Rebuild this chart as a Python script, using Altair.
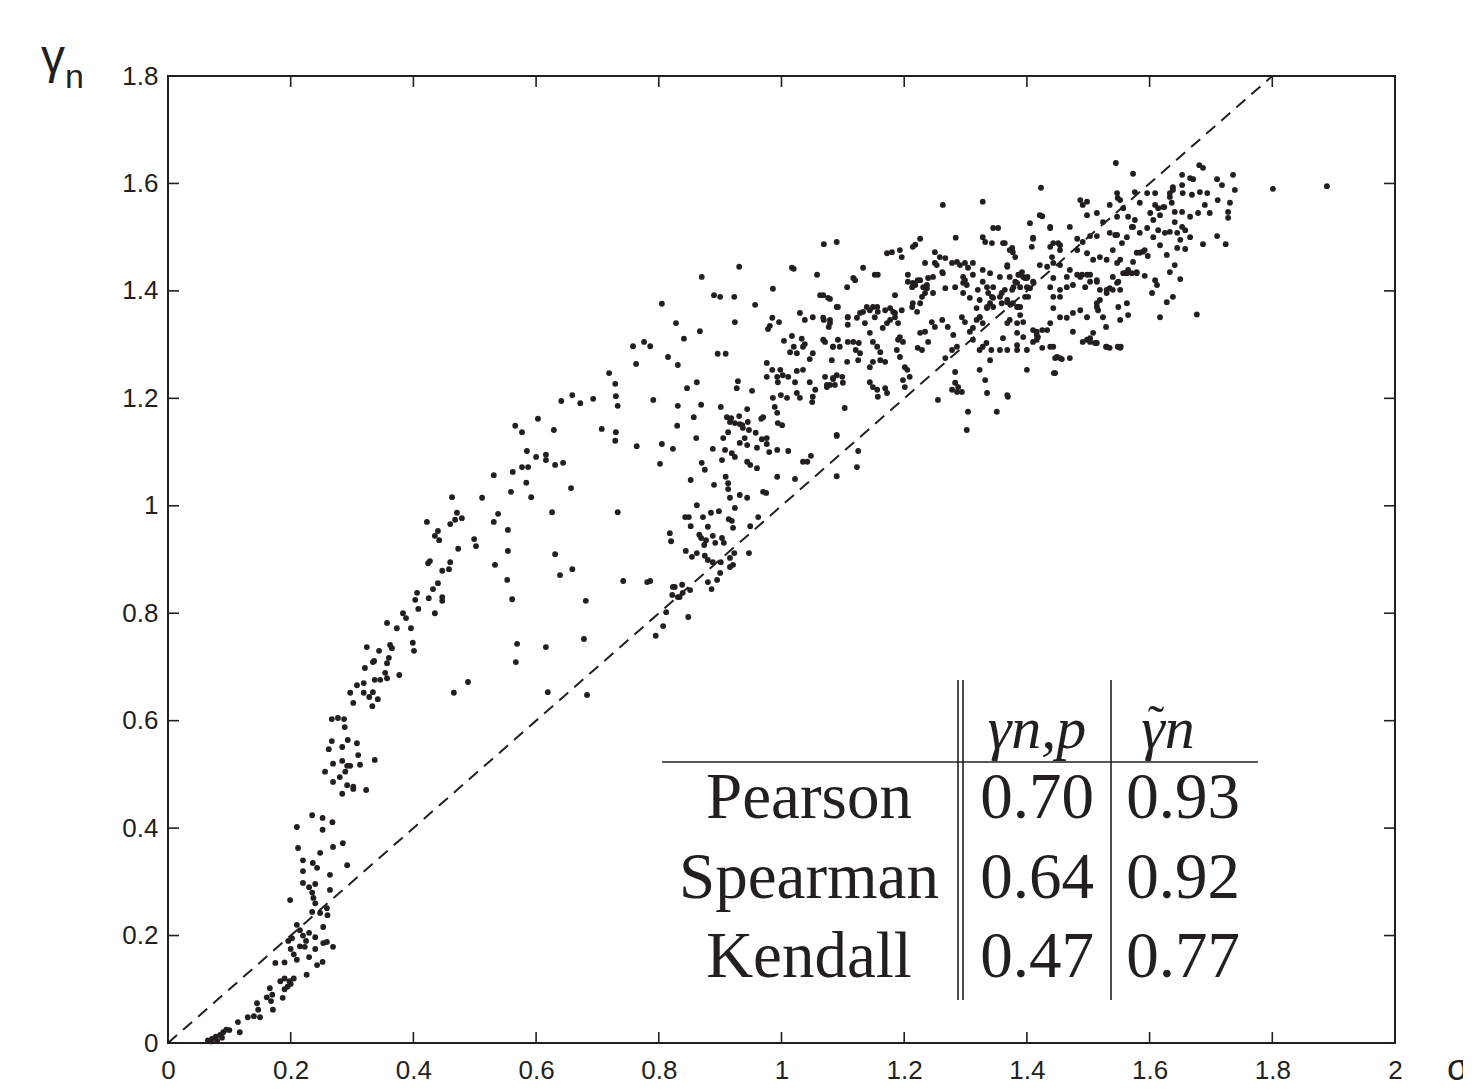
import altair as alt
import pandas as pd

# ---------------- data (sigma, gamma_n) ----------------
low_branch = [
(0.065,0.005),(0.072,0.008),(0.078,0.012),(0.085,0.015),(0.09,0.02),(0.08,0.004),(0.095,0.025),(0.07,0.003),(0.088,0.01),
(0.10,0.024),(0.114,0.039),(0.117,0.02),(0.13,0.048),(0.14,0.05),(0.15,0.048),(0.145,0.074),(0.147,0.062),
(0.161,0.085),(0.168,0.078),(0.17,0.09),(0.166,0.102),(0.171,0.062),(0.175,0.149),(0.187,0.084),
(0.183,0.115),(0.19,0.12),(0.195,0.105),(0.2,0.11),(0.205,0.12),(0.19,0.1),(0.198,0.115),
(0.19,0.15),(0.199,0.266),(0.196,0.19),(0.2,0.175),(0.205,0.165),(0.21,0.155),(0.215,0.18),(0.202,0.195),
(0.21,0.402),(0.212,0.363),(0.21,0.22),(0.215,0.21),(0.22,0.2),(0.225,0.19),(0.23,0.205),
(0.22,0.34),(0.22,0.32),(0.236,0.335),(0.243,0.326),(0.22,0.298),(0.23,0.29),(0.24,0.296),(0.235,0.28),
(0.226,0.127),(0.235,0.424),(0.252,0.419),(0.268,0.411),(0.252,0.397),
(0.237,0.27),(0.24,0.26),(0.235,0.244),(0.248,0.242),(0.253,0.216),(0.259,0.251),(0.26,0.238),
(0.24,0.197),(0.24,0.175),(0.243,0.145),(0.252,0.151),(0.253,0.186),(0.259,0.188),
(0.248,0.354),(0.269,0.365),(0.285,0.372),(0.264,0.313),(0.264,0.285),(0.269,0.179),(0.292,0.331),
(0.23,0.16),(0.223,0.179),
]
mid_cluster = [
(0.267,0.603),(0.277,0.605),(0.287,0.603),(0.288,0.588),
(0.267,0.562),(0.284,0.551),(0.293,0.564),(0.308,0.558),(0.262,0.547),
(0.269,0.52),(0.284,0.525),(0.292,0.516),(0.297,0.516),(0.289,0.505),(0.31,0.536),(0.313,0.518),(0.337,0.527),
(0.256,0.505),(0.28,0.495),(0.269,0.486),(0.292,0.48),(0.302,0.477),(0.284,0.464),(0.302,0.473),(0.323,0.471),
]
upper_branch = [
(0.297,0.652),(0.302,0.633),(0.308,0.666),(0.319,0.67),(0.319,0.652),(0.328,0.644),(0.334,0.653),(0.333,0.627),
(0.342,0.64),(0.337,0.676),(0.346,0.676),(0.357,0.679),(0.354,0.689),(0.377,0.685),(0.334,0.709),(0.357,0.707),
(0.321,0.698),(0.336,0.711),(0.344,0.73),(0.36,0.717),(0.324,0.737),(0.362,0.741),(0.365,0.735),(0.357,0.782),
(0.373,0.772),(0.396,0.772),(0.399,0.745),(0.401,0.73),(0.383,0.8),(0.388,0.791),(0.403,0.825),(0.406,0.838),
(0.408,0.808),(0.425,0.828),(0.432,0.845),(0.435,0.8),(0.44,0.856),(0.447,0.83),(0.447,0.823),
(0.424,0.893),(0.427,0.897),(0.447,0.879),(0.46,0.895),(0.458,0.882),(0.473,0.92),(0.422,0.97),(0.435,0.944),
(0.44,0.953),(0.442,0.936),(0.46,0.966),(0.468,0.974),(0.471,0.987),(0.479,0.977),(0.463,1.016),
(0.499,0.938),(0.502,0.925),(0.512,1.015),
]
scattered = [
(0.531,1.057),(0.562,1.063),(0.559,1.026),(0.577,1.072),(0.587,1.072),(0.584,1.043),(0.592,1.016),(0.585,1.102),
(0.6,1.091),(0.616,1.095),(0.616,1.085),(0.631,1.076),(0.644,1.08),(0.657,1.033),
(0.566,1.149),(0.577,1.137),(0.603,1.162),(0.629,1.141),(0.641,1.195),(0.659,1.206),(0.672,1.191),(0.693,1.199),
(0.531,0.97),(0.538,0.985),(0.554,0.955),(0.533,0.89),(0.554,0.916),(0.553,0.862),(0.561,0.826),(0.569,0.743),(0.567,0.709),
(0.466,0.652),(0.489,0.672),(0.616,0.737),(0.619,0.653),(0.626,0.988),(0.631,0.91),(0.639,0.871),(0.659,0.882),
(0.681,0.823),(0.678,0.752),(0.683,0.648),
(0.805,1.376),(0.828,1.34),(0.758,1.297),(0.776,1.305),(0.786,1.297),(0.815,1.277),(0.831,1.262),(0.763,1.264),
(0.719,1.247),(0.729,1.227),(0.73,1.204),(0.733,1.186),(0.791,1.197),(0.831,1.186),
(0.707,1.143),(0.73,1.137),(0.729,1.121),(0.764,1.111),(0.805,1.115),(0.823,1.106),(0.802,1.078),(0.733,0.988),
(0.818,0.949),(0.82,0.934),(0.742,0.86),(0.781,0.858),(0.786,0.86),
(0.826,0.849),(0.822,0.834),(0.831,0.83),(0.812,0.802),(0.807,0.776),(0.795,0.758),
]
band_a = [
(0.931,1.445),(0.87,1.426),(1.017,1.443),(1.02,1.441),(1.058,1.43),(0.986,1.404),(0.89,1.392),(0.9,1.389),(0.923,1.389),(0.957,1.374),
(0.841,1.311),(0.867,1.325),(0.924,1.342),(0.896,1.283),(0.909,1.283),(0.862,1.23),(0.846,1.219),(0.869,1.188),(0.929,1.232),(0.927,1.219),(0.952,1.214),
(0.901,1.184),(0.911,1.165),(0.918,1.163),(0.931,1.167),(0.936,1.15),(0.945,1.156),(0.944,1.18),(0.947,1.141),(0.958,1.136),(0.967,1.162),(0.968,1.124),(0.976,1.115),
(0.857,1.165),(0.861,1.126),(0.83,1.149),(0.87,1.08),(0.875,1.067),(0.888,1.106),(0.903,1.085),(0.908,1.104),(0.905,1.126),(0.913,1.137),(0.916,1.156),
(0.924,1.154),(0.932,1.152),(0.937,1.145),(0.94,1.126),(0.919,1.098),(0.924,1.091),(0.932,1.117),(0.944,1.113),(0.944,1.082),(0.949,1.076),(0.96,1.07),
(0.98,1.1),(0.993,1.104),(1.011,1.102),(0.976,1.126),
(0.852,1.048),(0.89,1.039),(0.909,1.054),(0.913,1.042),(0.913,1.031),(0.916,1.015),(0.932,1.02),(0.944,1.015),(0.924,0.996),(0.97,1.026),(0.975,1.024),(0.993,1.054),(1.022,1.05),
(1.042,1.082),(1.048,1.093),(1.09,1.132),(1.09,1.055),(1.125,1.102),(1.123,1.072),
(0.843,0.979),(0.849,0.979),(0.862,1.001),(0.852,0.962),(0.872,0.979),(0.885,0.987),(0.898,0.99),
(0.866,0.946),(0.869,0.94),(0.874,0.927),(0.877,0.936),(0.88,0.961),(0.888,0.944),(0.892,0.931),(0.903,0.94),(0.906,0.931),(0.914,0.975),(0.919,0.972),(0.921,0.959),
(0.844,0.916),(0.854,0.905),(0.862,0.912),(0.875,0.907),(0.88,0.899),(0.888,0.895),(0.901,0.895),(0.916,0.903),(0.923,0.912),(0.921,0.89),(0.916,0.886),(0.947,0.912),
(0.9,0.875),(0.895,0.862),(0.88,0.858),(0.886,0.845),(0.962,0.979),(0.949,0.962),
(0.823,0.849),(0.838,0.853),(0.851,0.843),(0.834,0.83),(0.839,0.838),(0.848,0.793),
(1.035,1.082),(0.994,1.154),(1.001,1.15),(0.993,1.173),(0.97,1.165),(0.96,1.108),
(1.009,1.201),(0.999,1.206),(0.986,1.201),(0.989,1.184),
(1.011,1.24),(1.025,1.251),(1.022,1.23),(1.035,1.253),(1.046,1.23),(1.055,1.216),(1.051,1.203),(1.05,1.193),(1.025,1.21),(1.03,1.201),
(0.976,1.266),(0.985,1.253),(0.998,1.253),(1.002,1.243),(0.993,1.24),(0.994,1.23),(0.976,1.24),
(0.985,1.35),(0.996,1.342),(0.978,1.329),(0.981,1.335),(1.03,1.359),(1.038,1.346),(1.051,1.351),
(1.004,1.307),(1.017,1.316),(1.033,1.311),(1.035,1.296),(1.038,1.301),(1.02,1.296),(1.025,1.284),(1.014,1.286),(1.046,1.273),(1.051,1.284),
]
band_b = [
(1.068,1.35),(1.079,1.346),(1.077,1.333),(1.068,1.309),(1.084,1.296),(1.092,1.309),(1.095,1.296),(1.108,1.305),(1.099,1.24),(1.09,1.243),(1.084,1.236),(1.079,1.225),(1.074,1.225),
(1.068,1.392),(1.079,1.385),(1.092,1.37),(1.082,1.271),(1.107,1.268),(1.103,1.182),
(1.108,1.351),(1.123,1.35),(1.128,1.359),(1.133,1.361),(1.144,1.364),(1.156,1.37),(1.152,1.351),
(1.108,1.337),(1.117,1.305),(1.126,1.303),(1.121,1.29),(1.128,1.284),(1.125,1.271),
(1.144,1.322),(1.149,1.305),(1.156,1.296),(1.161,1.286),(1.161,1.271),(1.169,1.268),(1.149,1.268),(1.144,1.258),(1.144,1.23),(1.149,1.221),(1.156,1.216),(1.157,1.203),(1.169,1.219),(1.172,1.21),
(1.165,1.331),(1.172,1.34),(1.177,1.346),(1.182,1.361),(1.185,1.351),(1.19,1.34),(1.193,1.314),(1.19,1.309),(1.198,1.305),
(1.188,1.29),(1.193,1.277),(1.201,1.258),(1.205,1.253),(1.209,1.24),(1.201,1.221),(1.198,1.234),(1.222,1.294),(1.229,1.29),(1.226,1.322),(1.234,1.324),(1.239,1.305),
(1.214,1.377),(1.221,1.361),(1.213,1.407),(1.237,1.411),(1.247,1.426),(1.263,1.433),(1.25,1.452),(1.278,1.452),(1.267,1.405),(1.247,1.396),
(1.206,1.417),(1.214,1.415),(1.226,1.42),(1.234,1.396),
(1.245,1.342),(1.25,1.333),(1.262,1.346),(1.271,1.333),(1.28,1.318),(1.278,1.29),(1.286,1.296),(1.294,1.351),(1.299,1.342),(1.307,1.324),(1.312,1.331),(1.318,1.346),(1.312,1.309),(1.323,1.29),(1.328,1.296),(1.334,1.303),(1.342,1.29),
(1.267,1.275),(1.283,1.229),(1.288,1.221),(1.294,1.212),(1.286,1.212),(1.278,1.216),(1.255,1.197),(1.283,1.249),(1.304,1.175),(1.302,1.141),
(1.332,1.234),(1.335,1.21),(1.351,1.175),(1.368,1.206),(1.369,1.203),
(1.323,1.253),(1.34,1.271),(1.356,1.29),(1.368,1.29),(1.384,1.299),(1.4,1.253),
(1.323,1.351),(1.328,1.34),(1.335,1.368),(1.34,1.377),(1.337,1.396),(1.345,1.387),(1.356,1.389),(1.368,1.379),(1.373,1.374),(1.384,1.37),(1.389,1.355),(1.394,1.342),(1.402,1.389),(1.378,1.407),(1.386,1.43),(1.401,1.426),(1.411,1.415),
(1.312,1.452),(1.328,1.439),(1.34,1.433),(1.356,1.426),(1.368,1.445),(1.296,1.426),(1.296,1.415),
(1.384,1.322),(1.394,1.314),(1.41,1.327),(1.416,1.309),
]
band_c = [
(1.263,1.56),(1.328,1.566),(1.423,1.592),(1.545,1.638),(1.069,1.487),(1.09,1.491),(1.226,1.497),(1.214,1.482),(1.218,1.486),(1.284,1.499),
(1.328,1.5),(1.332,1.491),(1.345,1.517),(1.353,1.517),(1.343,1.489),(1.361,1.489),(1.376,1.48),(1.377,1.472),
(1.405,1.526),(1.41,1.499),(1.408,1.482),(1.421,1.541),(1.438,1.519),(1.443,1.489),(1.451,1.489),(1.438,1.482),(1.454,1.476),
(1.487,1.569),(1.498,1.566),(1.491,1.56),(1.514,1.545),(1.535,1.56),(1.547,1.582),(1.548,1.573),(1.547,1.538),(1.498,1.541),(1.47,1.519),(1.482,1.497),(1.491,1.491),(1.503,1.502),(1.514,1.502),(1.524,1.528),(1.535,1.508),(1.547,1.504),
(1.421,1.448),(1.433,1.445),(1.443,1.452),(1.454,1.448),(1.443,1.424),(1.438,1.407),(1.443,1.389),(1.454,1.402),(1.465,1.407),(1.475,1.411),(1.487,1.426),(1.498,1.43),(1.503,1.43),(1.514,1.42),
(1.482,1.476),(1.498,1.47),(1.508,1.458),(1.519,1.463),(1.53,1.458),(1.54,1.476),(1.547,1.452),(1.54,1.426),(1.547,1.415),(1.53,1.402),(1.514,1.377),(1.516,1.364),(1.524,1.351),(1.498,1.351),(1.487,1.364),(1.475,1.359),(1.465,1.35),(1.454,1.351),(1.438,1.34),(1.443,1.368),(1.454,1.389),
(1.425,1.327),(1.416,1.318),(1.41,1.305),(1.438,1.296),(1.449,1.277),(1.454,1.275),(1.47,1.275),(1.498,1.309),(1.503,1.305),(1.508,1.322),(1.514,1.303),(1.53,1.296),(1.535,1.294),(1.548,1.296),(1.529,1.333),(1.446,1.247),
]
band_d = [
(1.573,1.618),(1.653,1.616),(1.666,1.61),(1.671,1.608),(1.681,1.634),(1.687,1.629),(1.71,1.608),(1.718,1.597),(1.736,1.616),(1.739,1.588),(1.801,1.59),(1.889,1.595),
(1.576,1.584),(1.596,1.582),(1.609,1.582),(1.633,1.582),(1.638,1.593),(1.653,1.597),(1.654,1.582),(1.669,1.579),(1.682,1.584),(1.694,1.582),
(1.584,1.564),(1.601,1.545),(1.609,1.56),(1.617,1.541),(1.622,1.556),(1.636,1.564),(1.641,1.547),(1.653,1.547),(1.666,1.538),(1.679,1.545),(1.69,1.56),(1.698,1.545),(1.711,1.569),(1.731,1.564),(1.728,1.547),(1.728,1.536),
(1.573,1.519),(1.584,1.508),(1.596,1.517),(1.606,1.5),(1.614,1.513),(1.625,1.508),(1.633,1.51),(1.641,1.528),(1.645,1.508),(1.653,1.519),(1.658,1.513),(1.666,1.5),(1.687,1.487),(1.71,1.502),(1.724,1.487),
(1.617,1.485),(1.628,1.467),(1.645,1.48),(1.658,1.478),(1.65,1.495),
(1.579,1.471),(1.589,1.473),(1.597,1.465),(1.573,1.454),(1.563,1.433),(1.579,1.435),(1.592,1.428),(1.609,1.42),(1.612,1.411),(1.604,1.396),(1.628,1.379),(1.638,1.389),(1.633,1.435),(1.641,1.448),(1.65,1.422),(1.677,1.356),(1.617,1.351),
(1.552,1.569),(1.557,1.554),(1.565,1.538),(1.571,1.519),(1.576,1.532),(1.563,1.5),(1.555,1.489),(1.544,1.504),(1.552,1.458),(1.557,1.433),(1.549,1.417),(1.552,1.402),(1.563,1.377),(1.565,1.355),(1.549,1.37),(1.552,1.346),(1.552,1.294),(1.514,1.37),(1.519,1.383),
]
band_e = [
(1.361,1.312),(1.384,1.29),(1.4,1.29),(1.418,1.314),(1.425,1.294),(1.433,1.327),(1.443,1.296),(1.446,1.275),(1.457,1.273),(1.444,1.247),(1.475,1.324),(1.491,1.305),(1.503,1.312),(1.511,1.303),(1.529,1.296),(1.553,1.296),
(1.41,1.497),(1.425,1.539),(1.438,1.517),(1.441,1.463),(1.454,1.485),(1.465,1.426),(1.47,1.439),(1.482,1.43),(1.49,1.43),(1.495,1.407),(1.503,1.417),(1.514,1.417),(1.519,1.402),(1.53,1.396),(1.535,1.405),(1.54,1.402),(1.56,1.433),(1.565,1.439),(1.571,1.433),(1.579,1.433),(1.584,1.471),(1.592,1.476),(1.606,1.532),(1.614,1.554),(1.624,1.556),(1.633,1.575),(1.638,1.588),
(1.364,1.489),(1.372,1.476),(1.381,1.463),(1.368,1.448),(1.372,1.426),(1.381,1.417),(1.392,1.435),(1.397,1.424),(1.389,1.407),(1.4,1.407),(1.397,1.389),(1.386,1.37),(1.372,1.346),(1.384,1.34),(1.368,1.34),(1.416,1.324),
(1.286,1.454),(1.291,1.448),(1.299,1.452),(1.304,1.443),(1.312,1.43),(1.283,1.407),(1.299,1.42),(1.302,1.411),(1.296,1.396),(1.307,1.387),(1.32,1.402),(1.328,1.417),(1.335,1.407),(1.345,1.407),(1.343,1.389),(1.359,1.396),(1.364,1.402),(1.376,1.402),(1.384,1.415),(1.389,1.43),(1.394,1.426),(1.4,1.424),(1.41,1.417),(1.405,1.405),(1.389,1.37),(1.377,1.377),(1.368,1.383),(1.359,1.377),(1.345,1.37),(1.335,1.37),(1.323,1.383),(1.318,1.368),(1.323,1.351),
(1.172,1.47),(1.18,1.472),(1.193,1.476),(1.196,1.463),(1.234,1.452),(1.25,1.472),(1.258,1.463),(1.267,1.461),(1.253,1.448),(1.262,1.435),(1.222,1.42),(1.218,1.411),(1.231,1.407),(1.237,1.405),(1.239,1.424),(1.229,1.389),(1.226,1.377),(1.213,1.37),(1.196,1.364),(1.185,1.359),(1.177,1.368),(1.169,1.364),(1.157,1.361),(1.149,1.37),(1.139,1.37),(1.133,1.443),(1.117,1.424),(1.12,1.42),(1.107,1.407),(1.185,1.392),(1.206,1.43),(1.152,1.43),(1.157,1.43),
(1.063,1.392),(1.076,1.387),(1.09,1.37),(1.108,1.351),(1.136,1.34),(1.069,1.346),(1.079,1.34),(1.071,1.305),(1.084,1.296),(1.071,1.24),(1.084,1.238),(1.087,1.225),(1.074,1.221),(1.1,1.229),(1.09,1.13),
]

x_ticks = [0, 0.2, 0.4, 0.6, 0.8, 1, 1.2, 1.4, 1.6, 1.8, 2]
y_ticks = [0, 0.2, 0.4, 0.6, 0.8, 1, 1.2, 1.4, 1.6, 1.8]
diag_x = [0, 1.8]
diag_y = [0, 1.8]

methods = ["Pearson", "Spearman", "Kendall"]
gamma_np = ["0.70", "0.64", "0.47"]
gamma_tilde = ["0.93", "0.92", "0.77"]

# ---------------- chart ----------------
INK = "#231f20"
W, H = 1227, 967
TL = 11  # inward tick length

pts = low_branch + mid_cluster + upper_branch + scattered + band_a + band_b + band_c + band_d + band_e
df = pd.DataFrame(pts, columns=["sigma", "gamma"])
diag = pd.DataFrame({"sigma": diag_x, "gamma": diag_y})
xt = pd.DataFrame({"sigma": x_ticks})
yt = pd.DataFrame({"gamma": y_ticks})
one = pd.DataFrame({"a": [0]})

xs = alt.Scale(domain=[0, 2], nice=False, zero=False)
ys = alt.Scale(domain=[0, 1.8], nice=False, zero=False)
common_ax = dict(format="~g", title=None, ticks=False, tickSize=0, domain=False, grid=False,
                 labelFont="Liberation Sans", labelFontSize=26, labelColor=INK,
                 labelOverlap=False, labelFlush=False)
xax = alt.Axis(values=x_ticks, labelPadding=14, **common_ax)
yax = alt.Axis(values=y_ticks, labelPadding=10, **common_ax)

points = alt.Chart(df).mark_circle(size=34, color=INK, opacity=1).encode(
    x=alt.X("sigma:Q", scale=xs, axis=xax),
    y=alt.Y("gamma:Q", scale=ys, axis=yax),
)
line = alt.Chart(diag).mark_line(color=INK, strokeWidth=2, strokeDash=[12, 8]).encode(
    x=alt.X("sigma:Q", scale=xs, axis=xax),
    y=alt.Y("gamma:Q", scale=ys, axis=yax),
)

def rule_x(y0, y1):
    return alt.Chart(xt).mark_rule(color=INK, strokeWidth=1.6).encode(
        x=alt.X("sigma:Q", scale=xs, axis=xax), y=alt.value(y0), y2=alt.value(y1))

def rule_y(x0, x1):
    return alt.Chart(yt).mark_rule(color=INK, strokeWidth=1.6).encode(
        y=alt.Y("gamma:Q", scale=ys, axis=yax), x=alt.value(x0), x2=alt.value(x1))

ticks = [rule_x(H, H - TL), rule_x(0, TL), rule_y(0, TL), rule_y(W, W - TL)]

def txt(s, x, y, size, font="Liberation Serif", align="center", style="normal"):
    return alt.Chart(one).mark_text(
        text=s, font=font, fontSize=size, color=INK, align=align,
        baseline="alphabetic", fontStyle=style,
    ).encode(x=alt.value(x), y=alt.value(y))

def seg(x0, x1, y0, y1, w=1.6):
    return alt.Chart(one).mark_rule(color=INK, strokeWidth=w).encode(
        x=alt.value(x0), x2=alt.value(x1), y=alt.value(y0), y2=alt.value(y1))

table = [
    seg(494, 1090, 686, 686),
    seg(790, 790, 604, 924),
    seg(795, 795, 604, 924),
    seg(943, 943, 604, 924),
    txt("γn,p", 869, 672, 60, style="italic"),
    txt("γn", 1000, 672, 60, style="italic"),
    txt("˜", 988, 664, 50),
]
row_base = [742, 822, 901]
for m, a, b, yb in zip(methods, gamma_np, gamma_tilde, row_base):
    table.append(txt(m, 641, yb, 65))
    table.append(txt(a, 869, yb, 65))
    table.append(txt(b, 1015, yb, 65))

labels = [
    txt("γ", -127, -3, 48, font="Liberation Sans", align="left"),
    txt("n", -103, 12, 34, font="Liberation Sans", align="left"),
    txt("σ", 1279, 1004, 36, font="Liberation Sans", align="left"),
]

chart = alt.layer(points, line, *ticks, *table, *labels).properties(
    width=W, height=H,
    padding={"left": 160, "top": 68, "right": 68, "bottom": 40},
    autosize=alt.AutoSizeParams(type="none"),
).configure_view(
    stroke=INK, strokeWidth=2
)

chart.save("out.html", embed_options={"renderer": "svg", "actions": False})
